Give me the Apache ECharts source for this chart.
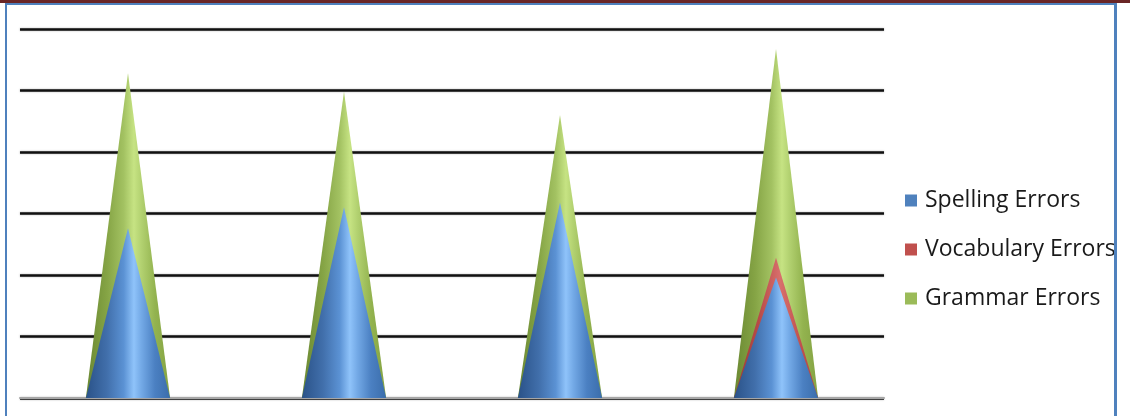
<!DOCTYPE html>
<html>
<head>
<meta charset="utf-8">
<script src="https://cdn.jsdelivr.net/npm/echarts@6/dist/echarts.min.js"></script>
<style>
  html, body { margin: 0; padding: 0; background: #ffffff; }
  #chart { width: 1130px; height: 416px; }
</style>
</head>
<body>
<div id="chart"></div>
<script>
// Error counts per essay
const categories = ['Essay 1', 'Essay 2', 'Essay 3', 'Essay 4'];
const spellingErrors = [13.8, 15.5, 15.9, 9.8];
const vocabularyErrors = [0, 0, 0, 11.4];
const grammarErrors = [26.4, 24.9, 23.0, 28.4];
const seriesNames = ['Spelling Errors', 'Vocabulary Errors', 'Grammar Errors'];

// Shading stops for each cone (left edge dark, highlight right of centre)
const shades = {
  blue: [
    [0, '#2a5288'], [0.25, '#416fab'], [0.45, '#5b92d4'], [0.57, '#8fc3fa'], [0.66, '#73a9e6'], [0.82, '#4b80c2'], [1, '#3b6dab']
  ],
  red: [
    [0, '#9a3a37'], [0.3, '#b84b48'], [0.55, '#d86f6c'], [0.8, '#c0504d'], [1, '#b04643']
  ],
  green: [
    [0, '#6a8832'], [0.25, '#85a445'], [0.45, '#a3c262'], [0.57, '#c6e383'], [0.66, '#b2d170'], [0.82, '#93b34f'], [1, '#84a343']
  ]
};

function coneRenderer(stops) {
  return function (params, api) {
    const v = api.value(1);
    if (!v) return null;
    const base = api.coord([api.value(0), 0]);
    const top = api.coord([api.value(0), v]);
    const half = api.size([1, 0])[0] * 0.195;
    return {
      type: 'polygon',
      shape: { points: [[base[0] - half, base[1]], [top[0], top[1]], [base[0] + half, base[1]]] },
      style: {
        fill: new echarts.graphic.LinearGradient(0, 0, 1, 0,
          stops.map(s => ({ offset: s[0], color: s[1] })))
      }
    };
  };
}

function coneSeries(name, values, color, stops, z) {
  return {
    name: name,
    type: 'custom',
    z: z,
    itemStyle: { color: color },
    encode: { x: 0, y: 1 },
    data: values.map((v, i) => [i, v]),
    renderItem: coneRenderer(stops)
  };
}

const chart = echarts.init(document.getElementById('chart'), null, { renderer: 'canvas' });

chart.setOption({
  backgroundColor: '#ffffff',
  animation: false,
  grid: { left: 20, top: 29, width: 864, height: 369, containLabel: false },
  xAxis: {
    type: 'category',
    data: categories,
    boundaryGap: true,
    axisLine: { show: true, lineStyle: { color: '#a6a6a6', width: 2 } },
    axisTick: { show: false },
    axisLabel: { show: false },
    splitLine: { show: false }
  },
  yAxis: {
    type: 'value',
    min: 0,
    max: 30,
    interval: 5,
    axisLine: { show: false },
    axisTick: { show: false },
    axisLabel: { show: false },
    splitLine: {
      show: true,
      lineStyle: { color: '#111111', width: 2.7, shadowColor: 'rgba(0,0,0,0.35)', shadowBlur: 2 }
    }
  },
  legend: {
    data: seriesNames,
    orient: 'vertical',
    left: 900,
    top: 184,
    itemGap: 26,
    itemWidth: 12,
    itemHeight: 12,
    icon: 'rect',
    textStyle: { fontFamily: 'Open Sans', fontSize: 23, color: '#1a1a1a', padding: [0, 0, 0, 3] }
  },
  series: [
    coneSeries(seriesNames[0], spellingErrors, '#4f81bd', shades.blue, 4),
    coneSeries(seriesNames[1], vocabularyErrors, '#c0504d', shades.red, 3),
    coneSeries(seriesNames[2], grammarErrors, '#9bbb59', shades.green, 2)
  ],
  graphic: [
    // page frame: dark band along the top, blue rules at the sides
    { type: 'rect', shape: { x: 0, y: 0, width: 1130, height: 3 }, style: { fill: '#6a2626' }, z: 10 },
    { type: 'rect', shape: { x: 5, y: 3, width: 2, height: 413 }, style: { fill: '#4f81bd' }, z: 10 },
    { type: 'rect', shape: { x: 5, y: 3, width: 1112, height: 2 }, style: { fill: '#4f81bd' }, z: 10 },
    { type: 'rect', shape: { x: 1114, y: 3, width: 3, height: 413 }, style: { fill: '#4f81bd' }, z: 10 }
  ]
});
</script>
</body>
</html>
